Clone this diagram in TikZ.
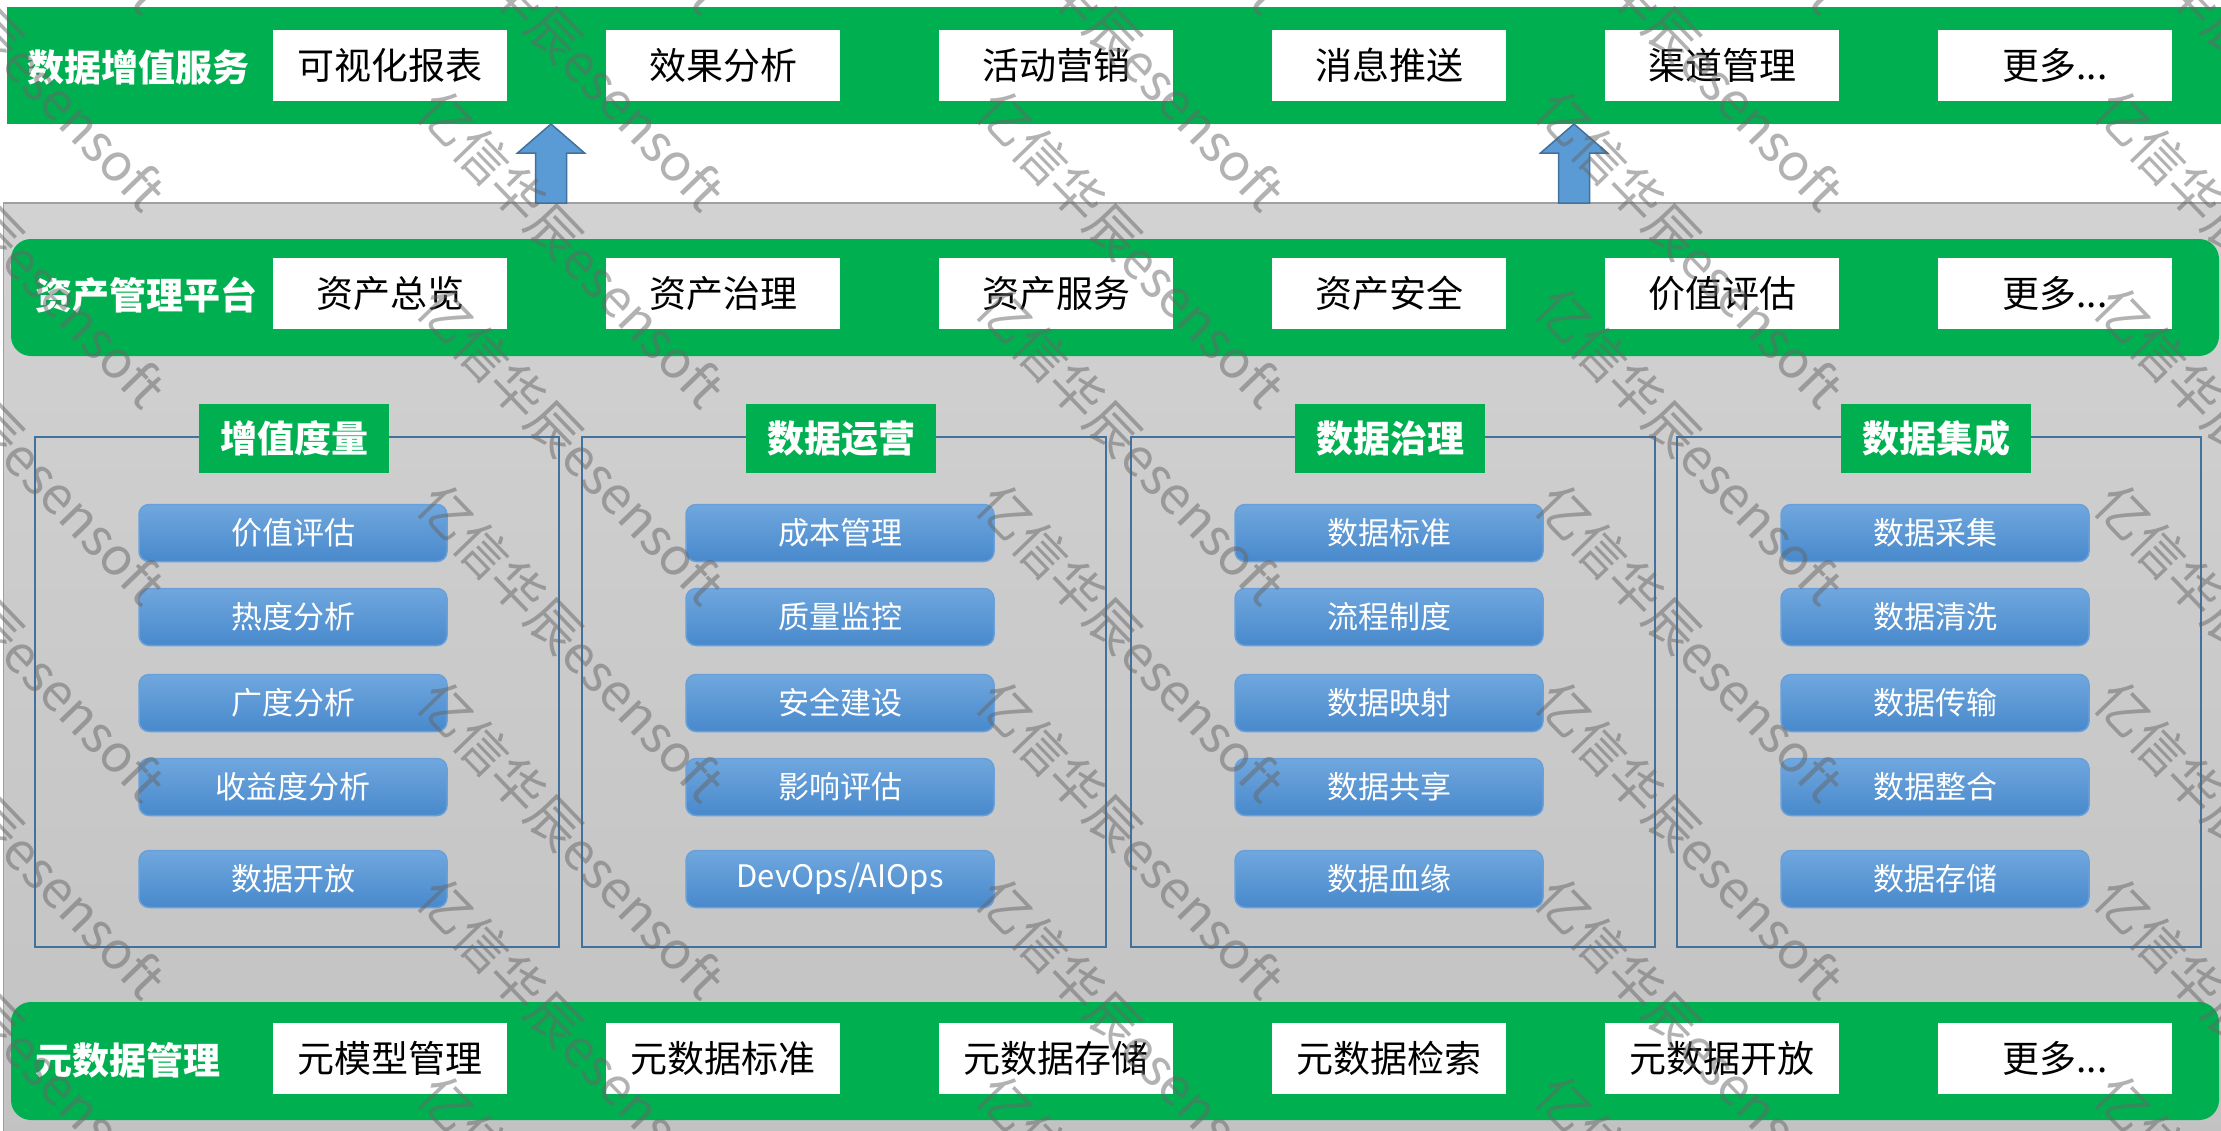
\documentclass[tikz,border=0pt]{standalone}
\usepackage{fontspec}
\setmainfont{Noto Sans CJK SC}
\definecolor{bandgreen}{RGB}{0,176,80}
\definecolor{btntop}{RGB}{112,167,222}
\definecolor{btnbot}{RGB}{72,137,204}
\definecolor{btnedge}{RGB}{105,160,218}
\definecolor{frameblue}{RGB}{65,113,156}
\definecolor{arrowfill}{RGB}{91,155,213}
\definecolor{arrowedge}{RGB}{65,113,156}
\definecolor{paneltop}{RGB}{211,210,211}
\definecolor{panelbot}{RGB}{194,194,194}
\definecolor{paneledge}{RGB}{160,160,160}
\newcommand\moretext{更多...}
\begin{document}
\begin{tikzpicture}[x=1pt,y=-1pt,
  band/.style={fill=bandgreen,draw=none,inner sep=0pt,outer sep=0pt,anchor=north west},
  bandlabel/.style={text=white,font=\bfseries\fontsize{37}{40}\selectfont,inner sep=0pt,anchor=west},
  wbox/.style={fill=white,draw=none,inner sep=0pt,minimum width=234pt,minimum height=71pt,font=\fontsize{37}{40}\selectfont,text=black},
  frame/.style={draw=frameblue,line width=2.5pt,fill=none,inner sep=0pt,minimum width=524pt,minimum height=510pt},
  ptitle/.style={fill=bandgreen,text=white,inner sep=0pt,minimum width=190pt,minimum height=69pt,font=\bfseries\fontsize{37}{40}\selectfont},
  btn/.style={rounded corners=10pt,top color=btntop,bottom color=btnbot,draw=btnedge,line width=1.5pt,inner sep=0pt,minimum width=308pt,minimum height=57pt,text=white,font=\fontsize{31}{34}\selectfont},
  blockarrow/.style={fill=arrowfill,draw=arrowedge,line width=1.5pt,line join=miter},
  wm/.style={text=black!60,opacity=0.5,inner sep=0pt,font=\fontsize{52}{56}\selectfont}
]
\useasboundingbox (0,0) rectangle (2221,1130);
\fill[white] (0,0) rectangle (2221,1130);

% grey base panel
\node[top color=paneltop,bottom color=panelbot,draw=paneledge,line width=1.5pt,inner sep=0pt,outer sep=0pt,anchor=north west,minimum width=2240pt,minimum height=950pt] (base) at (3.5,203) {};

% bands
\node[band,minimum width=2220pt,minimum height=117pt] (svc) at (7,7) {};
\node[band,rounded corners=20pt,minimum width=2208pt,minimum height=117pt] (asset) at (11,239) {};
\node[band,rounded corners=20pt,minimum width=2208pt,minimum height=118pt] (meta) at (11,1002) {};

\node[bandlabel] (svcl) at (27,67) {数据增值服务};
\node[bandlabel] (assetl) at (35,295) {资产管理平台};
\node[bandlabel] (metal) at (35,1060) {元数据管理};

\foreach \t [count=\i] in {可视化报表,效果分析,活动营销,消息推送,渠道管理,\moretext}
  \node[wbox] (svc\i) at ({390+333*(\i-1)},65.5) {\t};
\foreach \t [count=\i] in {资产总览,资产治理,资产服务,资产安全,价值评估,\moretext}
  \node[wbox] (asset\i) at ({390+333*(\i-1)},293.5) {\t};
\foreach \t [count=\i] in {元模型管理,元数据标准,元数据存储,元数据检索,元数据开放,\moretext}
  \node[wbox] (meta\i) at ({390+333*(\i-1)},1058) {\t};

% block arrows from the platform panel up to the service band
\coordinate (arrA) at (551,124);
\coordinate (arrB) at (1574,124);
\foreach \a in {arrA,arrB}
  \draw[blockarrow] (\a) -- ++(33.5,29) -- ++(-18,0) -- ++(0,50) -- ++(-31,0) -- ++(0,-50) -- ++(-18,0) -- cycle;

% four panels
\node[frame] (p1) at (297,692) {};
\node[frame] (p2) at (844,692) {};
\node[frame] (p3) at (1393,692) {};
\node[frame] (p4) at (1939,692) {};

\node[ptitle] (t1) at (294,438.5) {增值度量};
\node[ptitle] (t2) at (841,438.5) {数据运营};
\node[ptitle] (t3) at (1390,438.5) {数据治理};
\node[ptitle] (t4) at (1936,438.5) {数据集成};

\def\rowy{{533,617,703,787,879}}
\foreach \t [count=\i] in {价值评估,热度分析,广度分析,收益度分析,数据开放}
  \node[btn] (b1-\i) at (293,{\rowy[\i-1]}) {\t};
\foreach \t [count=\i] in {成本管理,质量监控,安全建设,影响评估,DevOps/AIOps}
  \node[btn] (b2-\i) at (840,{\rowy[\i-1]}) {\t};
\foreach \t [count=\i] in {数据标准,流程制度,数据映射,数据共享,数据血缘}
  \node[btn] (b3-\i) at (1389,{\rowy[\i-1]}) {\t};
\foreach \t [count=\i] in {数据采集,数据清洗,数据传输,数据整合,数据存储}
  \node[btn] (b4-\i) at (1935,{\rowy[\i-1]}) {\t};

% watermark
\begin{scope}
\clip (0,0) rectangle (2221,1130);
\foreach \k in {0,...,4}
  \foreach \j in {-2,...,5}
    \node[wm,anchor=west,rotate=-46] (wm-\k-\j) at ({-131+559*\k},{100+197*\j}) {亿信华辰esensoft};
\end{scope}
\end{tikzpicture}
\end{document}
